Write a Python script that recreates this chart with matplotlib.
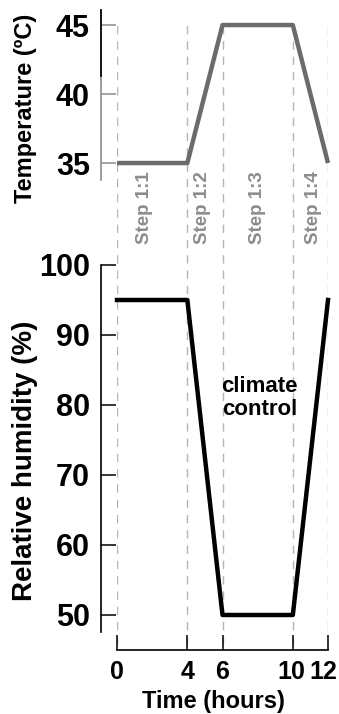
import matplotlib
matplotlib.use("Agg")
import matplotlib.pyplot as plt
import matplotlib.transforms as mtransforms

plt.rcParams['font.family'] = ['Liberation Sans', 'DejaVu Sans']

# Datos del gráfico
tiempo = [0, 4, 6, 10, 12]
temperatura = [35, 35, 45, 45, 35]
humedad = [95, 95, 50, 50, 95]
ticks_temp = [35, 40, 45]
ticks_hum = [50, 60, 70, 80, 90, 100]
pasos = ["Step 1:1", "Step 1:2", "Step 1:3", "Step 1:4"]
pos_pasos = [1.55, 4.85, 8.0, 11.15]

W, H = 339, 714
fig = plt.figure(figsize=(W / 100, H / 100), dpi=100)


def caja(x0, y0, x1, y1):
    # convierte pixeles (desde arriba) a coordenadas de figura
    return [x0 / W, (H - y1) / H, (x1 - x0) / W, (y1 - y0) / H]


# Eje de fondo para las líneas punteadas
ax_f = fig.add_axes(caja(117, 25, 328, 645))
ax_f.set_xlim(0, 12)
ax_f.set_ylim(0, 1)
ax_f.axis("off")
ax_f.vlines(tiempo, 0, 1, colors="#b5b5b5", linewidth=1.0,
            linestyles=(0, (6, 5)))
for nombre, xp in zip(pasos, pos_pasos):
    ax_f.text(xp, 0.705, nombre, rotation=90, ha="center", va="center",
              fontsize=13.5, fontweight="bold", color="#8c8c8c")

# Gráfico de temperatura
ax_t = fig.add_axes(caja(117, 10, 328, 180))
ax_t.set_facecolor("none")
ax_t.plot(tiempo, temperatura, color="#6b6b6b", linewidth=3.2,
          clip_on=False, solid_capstyle="butt")
ax_t.set_xlim(0, 12)
ax_t.set_ylim(33.77, 46.09)
ax_t.set_yticks(ticks_temp)
ax_t.set_xticks([])
for lado in ["top", "right", "bottom"]:
    ax_t.spines[lado].set_visible(False)
ax_t.spines["left"].set_position(("outward", 11.5))
ax_t.spines["left"].set_color("#8c8c8c")
ax_t.spines["left"].set_linewidth(1.2)
ax_t.tick_params(axis="y", direction="in", length=10.5, width=1.1,
                 color="#8c8c8c", pad=8, labelsize=22)
ax_t.yaxis.get_major_ticks()[2].tick1line.set_color("black")
for t in ax_t.get_yticklabels():
    t.set_fontweight("bold")
ax_t.set_ylabel("Temperature (ºC)", fontsize=17, fontweight="bold")
ax_t.yaxis.label.set_va("center")
ax_t.yaxis.set_label_coords(-0.436, 0.424)

# parte superior negra del eje
ax_n = fig.add_axes(caja(117, 10, 328, 180))
ax_n.set_facecolor("none")
ax_n.set_xlim(0, 12)
ax_n.set_ylim(33.77, 46.09)
ax_n.set_xticks([])
ax_n.set_yticks([])
for lado in ["top", "right", "bottom"]:
    ax_n.spines[lado].set_visible(False)
ax_n.spines["left"].set_position(("outward", 11.5))
ax_n.spines["left"].set_bounds(41.3, 46.09)
ax_n.spines["left"].set_linewidth(1.2)

# Gráfico de humedad relativa
ax_h = fig.add_axes(caja(117, 265, 328, 632))
ax_h.set_facecolor("none")
ax_h.plot(tiempo, humedad, color="black", linewidth=3.2, clip_on=False)
ax_h.set_xlim(0, 12)
ax_h.set_ylim(47.57, 100)
ax_h.set_yticks(ticks_hum)
ax_h.set_xticks(tiempo)
for lado in ["top", "right"]:
    ax_h.spines[lado].set_visible(False)
ax_h.spines["left"].set_position(("outward", 11.5))
ax_h.spines["bottom"].set_position(("outward", 13))
ax_h.spines["bottom"].set_bounds(0, 12)
ax_h.spines["left"].set_linewidth(1.2)
ax_h.spines["bottom"].set_linewidth(1.2)
ax_h.tick_params(axis="y", direction="in", length=10.5, width=1.1,
                 pad=8, labelsize=22)
ax_h.tick_params(axis="x", direction="in", length=10.5, width=1.1,
                 pad=7, labelsize=18)
for t in ax_h.get_yticklabels() + ax_h.get_xticklabels():
    t.set_fontweight("bold")

# las etiquetas 10 y 12 quedan pegadas, se corren un poco como en el original
etq_x = ax_h.get_xticklabels()
etq_x[3].set_transform(etq_x[3].get_transform() +
                       mtransforms.ScaledTranslation(-2 / 100, 0, fig.dpi_scale_trans))
etq_x[4].set_transform(etq_x[4].get_transform() +
                       mtransforms.ScaledTranslation(-5 / 100, 0, fig.dpi_scale_trans))

ax_h.set_ylabel("Relative humidity (%)", fontsize=20, fontweight="bold")
ax_h.yaxis.label.set_va("center")
ax_h.yaxis.set_label_coords(-0.436, 0.466)
ax_h.set_xlabel("Time (hours)", fontsize=17, fontweight="bold")
ax_h.xaxis.label.set_va("center")
ax_h.xaxis.set_label_coords(0.457, -0.19)
ax_h.text(8.1, 81, "climate\ncontrol", ha="center", va="center",
          fontsize=16, fontweight="bold", linespacing=1.1)

fig.savefig("out.png", dpi=100)
